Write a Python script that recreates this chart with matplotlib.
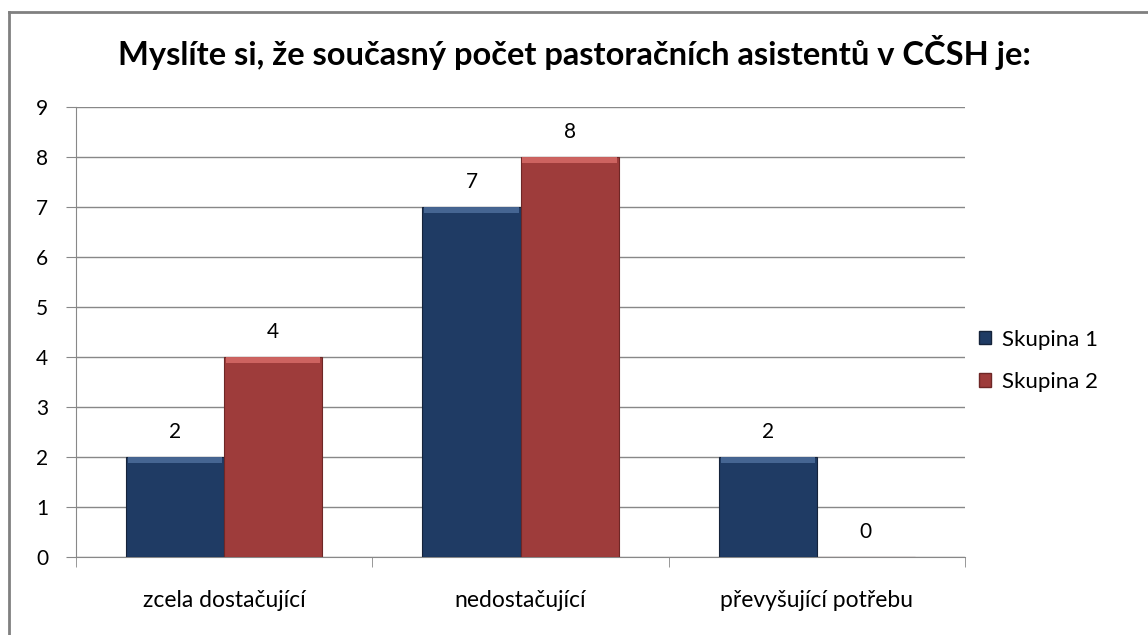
import numpy as np
import matplotlib
matplotlib.use('Agg')
import matplotlib.pyplot as plt
from matplotlib.lines import Line2D

# data
categories = ['zcela dostačující', 'nedostačující', 'převyšující potřebu']
skupina1 = [2, 7, 2]
skupina2 = [4, 8, 0]
series_names = ['Skupina 1', 'Skupina 2']
title = 'Myslíte si, že současný počet pastoračních asistentů v CČSH je:'

plt.rcParams['font.family'] = ['Lato', 'DejaVu Sans']

blue = '#1f3b64'
red = '#9e3c3b'
blue_top = '#4a6a98'
red_top = '#d36865'

fig = plt.figure(figsize=(11.48, 6.35), dpi=100)
ax = fig.add_axes([0.0662, 0.1228, 0.7744, 0.7087])

x = np.arange(len(categories))
w = 0.331

for vals, off, col, top in [(skupina1, -w / 2, blue, blue_top), (skupina2, w / 2, red, red_top)]:
    vals = np.array(vals)
    ax.bar(x + off, vals, w, color=col, edgecolor='#15233a' if col == blue else '#6e2726',
           linewidth=0.8, zorder=3)
    # light bevel at top of each bar
    h = np.minimum(vals, 0.12)
    ax.bar(x + off, h, w * 0.96, bottom=vals - h, color=top, linewidth=0, zorder=4, alpha=0.9)
    for xi, v in zip(x + off, vals):
        ax.annotate(str(v), (xi, v), xytext=(0, 14), textcoords='offset points',
                    ha='center', va='baseline', fontsize=15, color='#000000')

ax.set_xlim(-0.5, 2.5)
ax.set_ylim(0, 9)
ax.set_yticks(range(0, 10))
ax.tick_params(axis='y', length=7, color='#888888', labelsize=15, pad=13)
ax.set_xticks(x)
ax.set_xticklabels(categories, fontsize=16.5)
ax.tick_params(axis='x', length=0, pad=24)
ax.set_xticks([-0.5, 0.5, 1.5, 2.5], minor=True)
ax.tick_params(axis='x', which='minor', length=7, color='#888888', direction='out')

ax.grid(axis='y', color='#888888', linewidth=1, zorder=0)
ax.set_axisbelow(True)
for s in ['top', 'right']:
    ax.spines[s].set_visible(False)
for s in ['left', 'bottom']:
    ax.spines[s].set_color('#888888')

fig.text(0.5, 0.918, title, ha='center', va='center', fontsize=23.5, fontweight='bold')

handles = [plt.Rectangle((0, 0), 1, 1, facecolor=blue, edgecolor='#15233a'),
           plt.Rectangle((0, 0), 1, 1, facecolor=red, edgecolor='#6e2726')]
fig.legend(handles, series_names, loc='center left', bbox_to_anchor=(0.835, 0.432),
           frameon=False, fontsize=16, handlelength=0.55, handleheight=0.55,
           handletextpad=0.5, labelspacing=1.0)

# outer frame (left and top edges visible)
fig.add_artist(Line2D([0.0075, 0.0075], [0, 0.981], color='#808080', linewidth=2))
fig.add_artist(Line2D([0.0075, 1], [0.981, 0.981], color='#808080', linewidth=2))

fig.savefig('out.png', dpi=100)
